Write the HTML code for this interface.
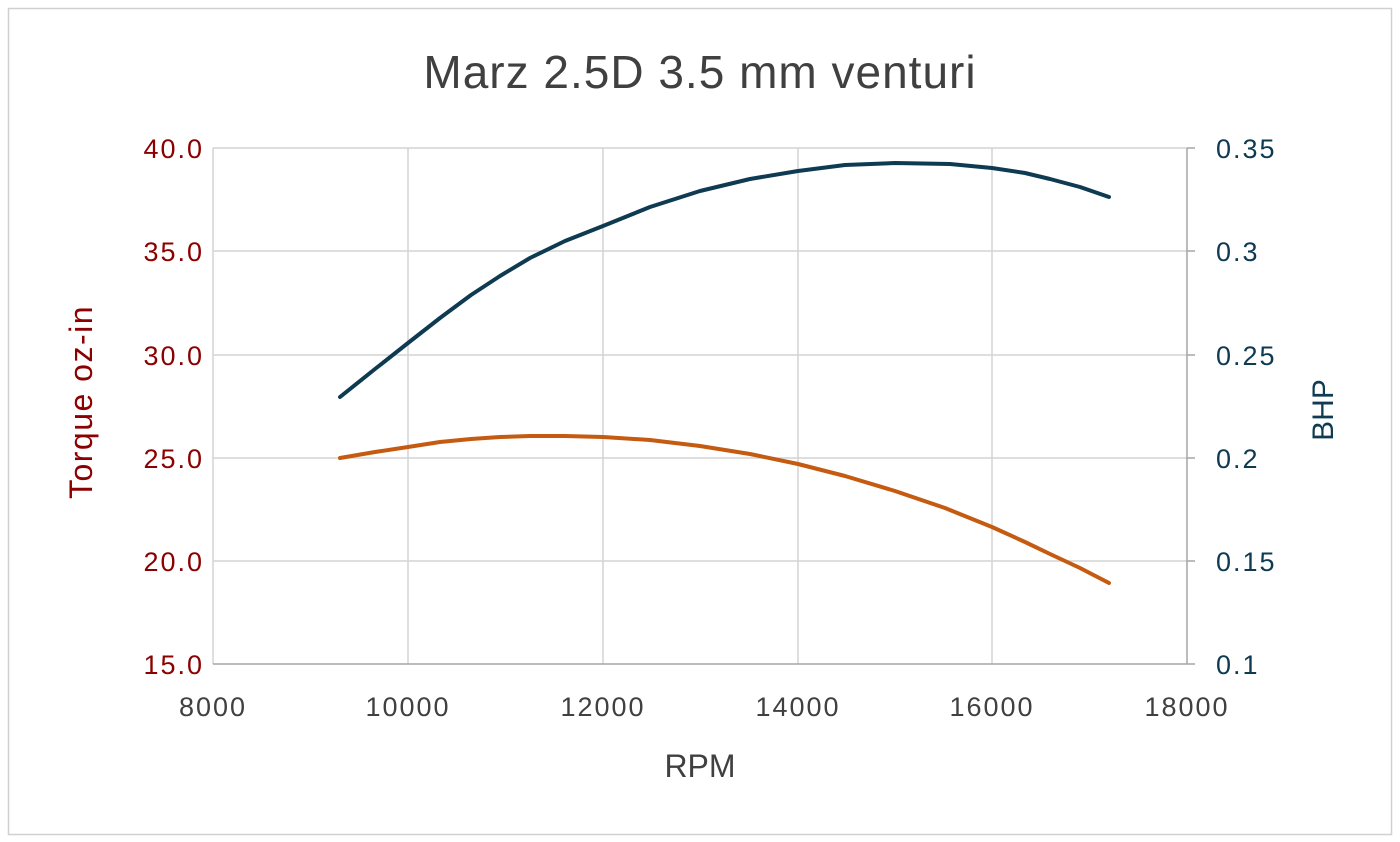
<!DOCTYPE html>
<html><head><meta charset="utf-8"><style>
html,body{margin:0;padding:0;background:#fff;}
svg{display:block;font-family:"Liberation Sans",sans-serif;}
</style></head><body>
<svg width="1400" height="842" viewBox="0 0 1400 842">
<rect x="0" y="0" width="1400" height="842" fill="#fff"/>
<rect x="8.5" y="8.5" width="1383" height="826" fill="none" stroke="#d0d0d0" stroke-width="1.5"/>
<text x="700" y="88" text-anchor="middle" font-size="46" letter-spacing="1" fill="#404040">Marz 2.5D 3.5 mm venturi</text>
<g stroke="#d4d4d4" stroke-width="1.5">
<line x1="213" y1="148" x2="1187" y2="148"/>
<line x1="213" y1="251" x2="1187" y2="251"/>
<line x1="213" y1="355" x2="1187" y2="355"/>
<line x1="213" y1="458" x2="1187" y2="458"/>
<line x1="213" y1="561" x2="1187" y2="561"/>
<line x1="213" y1="148" x2="213" y2="664"/>
<line x1="408" y1="148" x2="408" y2="664"/>
<line x1="603" y1="148" x2="603" y2="664"/>
<line x1="798" y1="148" x2="798" y2="664"/>
<line x1="992" y1="148" x2="992" y2="664"/>
</g>
<g stroke="#a6a6a6" stroke-width="1.5">
<line x1="213" y1="664" x2="1187" y2="664"/>
<line x1="1187" y1="148" x2="1187" y2="664"/>
<line x1="1187" y1="148" x2="1195" y2="148"/>
<line x1="1187" y1="251" x2="1195" y2="251"/>
<line x1="1187" y1="355" x2="1195" y2="355"/>
<line x1="1187" y1="458" x2="1195" y2="458"/>
<line x1="1187" y1="561" x2="1195" y2="561"/>
<line x1="1187" y1="664" x2="1195" y2="664"/>
</g>
<g font-size="27" letter-spacing="2" fill="#8b0000" text-anchor="end">
<text x="204" y="158">40.0</text>
<text x="204" y="261">35.0</text>
<text x="204" y="365">30.0</text>
<text x="204" y="468">25.0</text>
<text x="204" y="571">20.0</text>
<text x="204" y="674">15.0</text>
</g>
<g font-size="27" letter-spacing="2" fill="#0e3a52">
<text x="1216" y="158">0.35</text>
<text x="1216" y="261">0.3</text>
<text x="1216" y="365">0.25</text>
<text x="1216" y="468">0.2</text>
<text x="1216" y="571">0.15</text>
<text x="1216" y="674">0.1</text>
</g>
<g font-size="27" letter-spacing="2" fill="#404040" text-anchor="middle">
<text x="213" y="716">8000</text>
<text x="408" y="716">10000</text>
<text x="603" y="716">12000</text>
<text x="798" y="716">14000</text>
<text x="992" y="716">16000</text>
<text x="1187" y="716">18000</text>
<text x="700" y="777" font-size="32" letter-spacing="0">RPM</text>
</g>
<text transform="translate(92,402) rotate(-90)" text-anchor="middle" font-size="32" letter-spacing="1.5" fill="#8b0000">Torque oz-in</text>
<text transform="translate(1333,410) rotate(-90)" text-anchor="middle" font-size="30" fill="#0e3a52">BHP</text>
<polyline fill="none" stroke="#c55a11" stroke-width="4" stroke-linejoin="round" stroke-linecap="round"
points="340,458 375,452 408,447 440,442 471,439 500,437 530,436 565,436 603,437 650,440 700,446 750,454 798,464 845,476 895,491 945,508 992,527 1025,542 1050,554 1080,568 1109,583"/>
<polyline fill="none" stroke="#0e3a52" stroke-width="4" stroke-linejoin="round" stroke-linecap="round"
points="340,397 375,369 408,343 440,318 471,295 500,276 530,258 565,241 603,226 650,207 700,191 750,179 798,171 845,165 895,163 950,164 992,168 1025,173 1050,179 1080,187 1109,197"/>
</svg>
</body></html>
